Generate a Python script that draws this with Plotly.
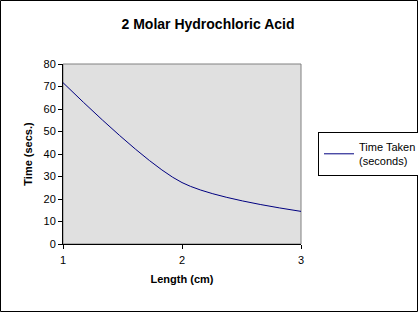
import plotly.graph_objects as go

length_cm = [1, 2, 3]
time_secs = [71.7, 27.3, 14.5]
series_name = "Time Taken<br>(seconds)"

W, H = 418, 312
ML, MR, MT, MB = 63, 117, 64, 68
PW, PH = W - ML - MR, H - MT - MB

fig = go.Figure()
fig.add_trace(go.Scatter(
    x=length_cm, y=time_secs, mode="lines", name=series_name,
    line=dict(color="#000080", width=1, shape="spline", smoothing=0.8),
    showlegend=True,
))

font = dict(family="Liberation Sans, Arial, sans-serif", size=11, color="black")

fig.update_layout(
    width=W, height=H,
    margin=dict(l=ML, r=MR, t=MT, b=MB, pad=0, autoexpand=False),
    paper_bgcolor="white", plot_bgcolor="#e0e0e0",
    font=font,
    title=dict(text="<b>2 Molar Hydrochloric Acid</b>", x=(208 - ML) / PW, xref="paper",
               xanchor="center", y=1 - 24 / H, yanchor="middle",
               font=dict(size=14, family="Liberation Sans, Arial, sans-serif")),
    showlegend=True,
    legend=dict(x=(318 - ML) / PW, xanchor="left",
                y=1 - (154 - MT) / PH, yanchor="middle",
                bordercolor="black", borderwidth=1, bgcolor="white",
                font=dict(size=11), tracegroupgap=0, itemwidth=30),
    xaxis=dict(range=[1, 3], tickvals=[1, 2, 3], ticks="outside", ticklen=4,
               tickcolor="black", showline=True, linecolor="black", linewidth=1,
               showgrid=False, zeroline=False, ticklabelstandoff=2,
               title=dict(text="<b>Length (cm)</b>", standoff=10,
                          font=dict(size=11))),
    yaxis=dict(range=[0, 80], tickvals=[0, 10, 20, 30, 40, 50, 60, 70, 80],
               ticks="outside", ticklen=4, tickcolor="black", showline=True,
               linecolor="black", linewidth=1, showgrid=False, zeroline=False,
               title=dict(text="<b>Time (secs.)</b>", standoff=8,
                          font=dict(size=11))),
)

# plot area border (grey) and outer frame
fig.add_shape(type="rect", xref="paper", yref="paper", x0=0, x1=1, y0=0, y1=1,
              line=dict(color="#808080", width=1), layer="below")
fig.add_shape(type="rect", xref="paper", yref="paper",
              x0=-(ML - 0.5) / PW, x1=1 + (MR - 0.5) / PW,
              y0=-(MB - 0.5) / PH, y1=1 + (MT - 0.5) / PH,
              line=dict(color="black", width=1))

fig.write_html("out.html")
